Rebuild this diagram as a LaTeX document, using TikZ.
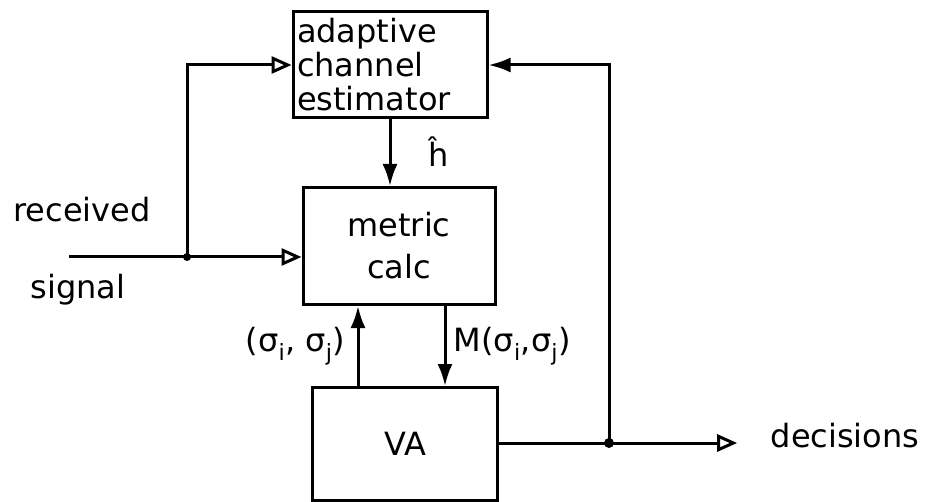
\documentclass[tikz,border=0pt]{standalone}
\usepackage{fontspec}
\setmainfont{DejaVu Sans}
\usetikzlibrary{arrows.meta}

\tikzset{
  blockbox/.style={draw,line width=3pt,inner sep=0pt},
  wire/.style={line width=3pt},
  flow/.style={wire,-{Latex[length=22pt,width=15pt]}},
  feed/.style={wire,-{Triangle[open,length=20pt,width=17pt,line width=3pt]}},
  handtext/.style={font=\fontsize{32}{34}\selectfont}
}

\begin{document}
\begin{tikzpicture}[x=1pt,y=-1pt,every node/.style={handtext}]
  \useasboundingbox (0,0) rectangle (936,502);
  % blocks
  \node[blockbox,minimum width=194pt,minimum height=106pt,text width=186pt,align=left] (est) at (390,65) {adaptive\\channel\\estimator};
  \node[blockbox,minimum width=192pt,minimum height=117pt,align=center] (metric) at (399,246) {metric\\[8pt]calc};
  \node[blockbox,minimum width=185pt,minimum height=113pt] (va) at (405,444) {VA};
  \node (dec) at (845,436) {decisions};
  % input signal
  \node (rx) at (82,210) {received};
  \node (sig) at (78,290) {signal};
  \coordinate (in) at (69,257);
  \coordinate (split) at (187,257);
  \draw[wire] (in) -- (split);
  \fill (split) circle (4pt);
  \draw[feed] (split) -- (split -| metric.west);
  \draw[feed] (split) |- (est.west);
  % estimator to metric
  \draw[flow] (est.south) -- (est.south |- metric.north);
  \node at (439,152) {\^h};
  % metric <-> VA
  \draw[flow] ([xshift=-47pt]va.north) -- ([xshift=-47pt]va.north |- metric.south)
    node[midway,left=8pt] {(σ\textsubscript{i}, σ\textsubscript{j})};
  \draw[flow] ([xshift=40pt]va.north |- metric.south) -- ([xshift=40pt]va.north)
    node[midway,right=4pt] {M(σ\textsubscript{i},σ\textsubscript{j})};
  % decisions and feedback
  \coordinate (tap) at (609,443);
  \draw[wire] (va.east |- tap) -- (tap);
  \fill (tap) circle (5pt);
  \draw[feed,shorten >=30pt] (tap) -- (tap -| dec.west);
  \draw[flow] (tap) |- (est.east);
\end{tikzpicture}
\end{document}
